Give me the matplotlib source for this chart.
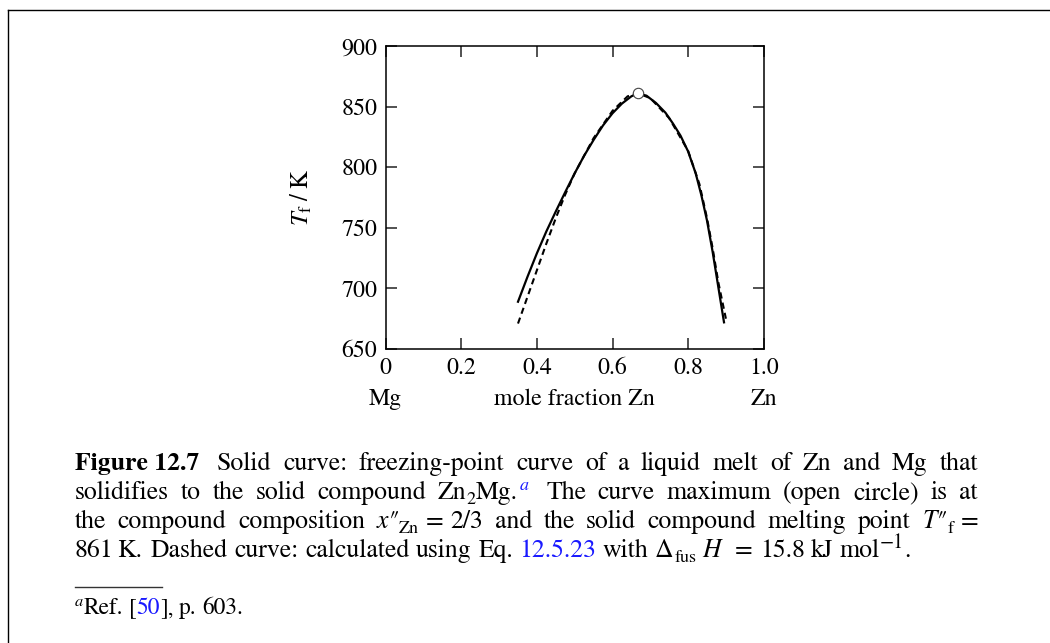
import numpy as np
import matplotlib
matplotlib.use("Agg")
import matplotlib.pyplot as plt
from matplotlib.lines import Line2D

# 数据：凝固点曲线 (Zn-Mg, Zn2Mg)
x_solid = [0.350, 0.375, 0.400, 0.425, 0.450, 0.475, 0.500, 0.525, 0.550, 0.575,
           0.600, 0.625, 0.650, 0.667, 0.690, 0.715, 0.740, 0.760, 0.780, 0.800,
           0.820, 0.835, 0.850, 0.865, 0.880, 0.895]
T_solid = [689, 709.5, 729, 747, 763.5, 779.5, 795, 809.5, 822.5, 834.5,
           844.5, 852.5, 858.5, 861, 859, 853, 845, 836, 826, 813,
           795, 777, 756, 730, 701, 672]

x_dashed = [0.350, 0.375, 0.400, 0.425, 0.450, 0.475, 0.500, 0.550, 0.600, 0.640,
            0.667, 0.700, 0.750, 0.800, 0.830, 0.850, 0.865, 0.880, 0.900]
T_dashed = [671, 693, 715, 737, 758, 777.5, 795, 824, 846.5, 858.5,
            861, 857, 840.5, 813.5, 786, 758, 733, 705, 675]

x_max, T_max = 2 / 3, 861

x_ticks = [0, 0.2, 0.4, 0.6, 0.8, 1.0]
x_ticklabels = ['0', '0.2', '0.4', '0.6', '0.8', '1.0']
y_ticks = [650, 700, 750, 800, 850, 900]

plt.rcParams['font.family'] = ['STIXGeneral', 'DejaVu Serif']
plt.rcParams['mathtext.fontset'] = 'stix'

W, H = 1050, 643
FS = 18.5
AX_FS = 17.2
BLUE = '#1a1aff'

fig = plt.figure(figsize=(W / 100, H / 100), dpi=100)
renderer = fig.canvas.get_renderer()


def fpos(x, y):
    return x / W, 1 - y / H


# 外框（上边和左边）
fig.add_artist(Line2D([8 / W, 1], [1 - 9.5 / H, 1 - 9.5 / H], transform=fig.transFigure,
                      color='black', lw=1.0))
fig.add_artist(Line2D([8 / W, 8 / W], [0, 1 - 9.5 / H], transform=fig.transFigure,
                      color='black', lw=1.0))

# 主图
ax = fig.add_axes([385.7 / W, 1 - 349 / H, 378 / W, 303 / H])
ax.plot(x_dashed, T_dashed, color='black', lw=1.5, dashes=(3, 2))
ax.plot(x_solid, T_solid, color='black', lw=1.6)
ax.plot([x_max], [T_max], 'o', ms=7.5, mfc='white', mec='#444444', mew=0.8, zorder=5)

ax.set_xlim(0, 1.0)
ax.set_ylim(650, 900)
ax.set_xticks(x_ticks)
ax.set_xticklabels(x_ticklabels)
ax.set_yticks(y_ticks)
ax.tick_params(direction='in', length=8, width=1.1, top=True, right=True,
               labelsize=AX_FS, color='#222222')
ax.tick_params(axis='x', pad=6)
ax.tick_params(axis='y', pad=6)
for s in ax.spines.values():
    s.set_linewidth(1.1)

ax.set_ylabel(r'$T_\mathrm{f}\;/\;\mathrm{K}$', fontsize=AX_FS + 0.5)
ax.yaxis.set_label_coords(-0.187, 0.5)
for xv, lab in [(0, 'Mg'), (0.5, 'mole fraction Zn'), (1.0, 'Zn')]:
    ax.text(xv, -0.185, lab, transform=ax.transAxes, ha='center', va='baseline',
            fontsize=AX_FS)


def put_line(words, y, x0=75, x1=978, justify=True, fs=FS):
    # words: 每个词是若干 (文本, 样式) 片段；数字表示该处的固定间距(px)
    placed = []
    for word in words:
        parts = []
        for item in word:
            if isinstance(item, (int, float)):
                parts.append((None, item, 0))
                continue
            s, kw = item
            kw = dict(kw)
            dy = kw.pop('dy', 0)
            size = kw.pop('size', fs)
            t = fig.text(0, 0, s, fontsize=size, va='baseline', ha='left', **kw)
            parts.append((t, t.get_window_extent(renderer).width, dy))
        placed.append(parts)
    widths = [sum(p[1] for p in parts) for parts in placed]
    if justify and len(placed) > 1:
        gap = (x1 - x0 - sum(widths)) / (len(placed) - 1)
    else:
        gap = 0.25 * fs * 100 / 72
    x = x0
    for parts in placed:
        for t, w, dy in parts:
            if t is not None:
                t.set_position(fpos(x, y - dy))
            x += w
        x += gap


N = {}
B = {'weight': 'bold'}
L = {'color': BLUE}
I = {'style': 'italic'}
SUP = {'color': BLUE, 'style': 'italic', 'size': FS * 0.7, 'dy': 9}
SUB = {'size': FS * 0.7, 'dy': -5}
SUPN = {'size': FS * 0.8, 'dy': 9}
MS = 7   # 数学符号 "=" 两侧的固定间距

line1 = [[('Figure 12.7', B), 6], [('Solid', N)], [('curve:', N)],
         [('freezing-point', N)], [('curve', N)], [('of', N)], [('a', N)], [('liquid', N)],
         [('melt', N)], [('of', N)], [('Zn', N)], [('and', N)], [('Mg', N)], [('that', N)]]
line2 = [[('solidifies', N)], [('to', N)], [('the', N)], [('solid', N)], [('compound', N)],
         [('Zn', N), ('2', SUB), ('Mg.', N), 2, ('a', SUP), 6], [('The', N)], [('curve', N)],
         [('maximum', N)], [('(open', N)], [('circle)', N)], [('is', N)], [('at', N)]]
line3 = [[('the', N)], [('compound', N)], [('composition', N)],
         [('x', I), ('\u2033', N), ('Zn', SUB), MS, ('=', N), MS, ('2/3', N)], [('and', N)],
         [('the', N)], [('solid', N)], [('compound', N)], [('melting', N)], [('point', N)],
         [('T', I), ('\u2033', N), ('f', SUB), MS, ('=', N)]]
line4 = [[('861', N), 3, ('K.', N), 3], [('Dashed', N)], [('curve:', N)], [('calculated', N)],
         [('using', N)], [('Eq.', N)], [('12.5.23', L)], [('with', N)],
         [('\u0394', N), 1, ('fus', SUB), 6, ('H', I), 14, ('=', N), 7,
          ('15.8', N), 6, ('kJ', N), 6, ('mol', N), ('\u22121', SUPN), 1, ('.', N)]]

put_line(line1, 470)
put_line(line2, 499)
put_line(line3, 528)
put_line(line4, 557, justify=False)

# 脚注
fig.add_artist(Line2D([75 / W, 162 / W], [1 - 587 / H, 1 - 587 / H], transform=fig.transFigure,
                      color='#333333', lw=1.0))
FN = 16.8
put_line([[('a', {'style': 'italic', 'size': FN * 0.7, 'dy': 8}), ('Ref.', N)],
          [('[', N), ('50', L), ('],', N)], [('p.', N)], [('603.', N)]],
         614, justify=False, fs=FN)

fig.savefig('out.png', dpi=100)
